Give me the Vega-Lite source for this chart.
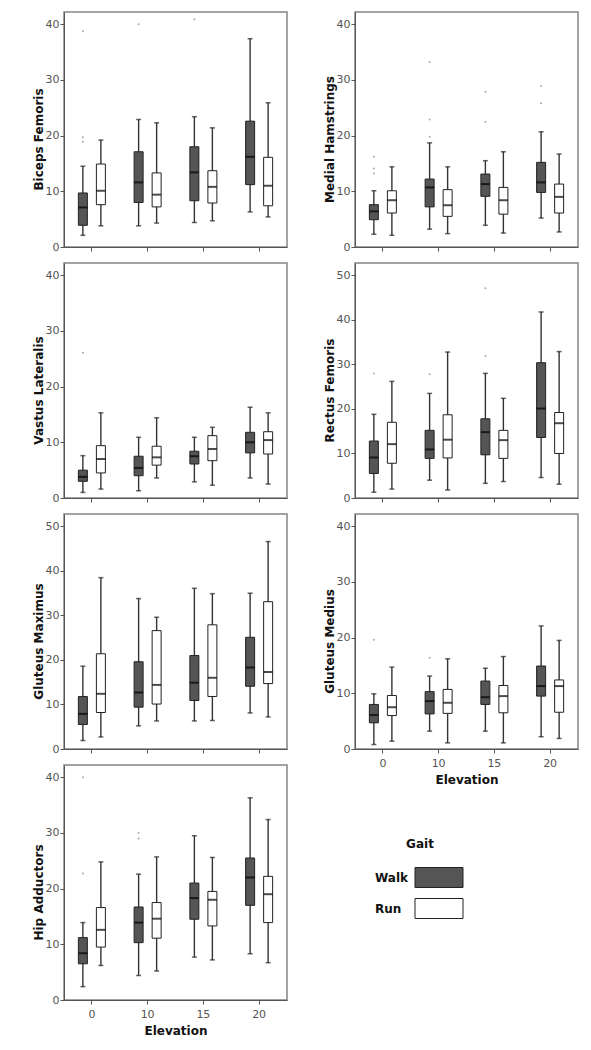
{
  "$schema": "https://vega.github.io/schema/vega-lite/v6.json",
  "padding": {"left": 31, "top": 11, "right": 5, "bottom": 5},
  "background": "white",
  "datasets": {
    "b": [
      {"m":"Biceps Femoris","e":"0","g":"Walk","lo":2.1,"q1":3.9,"med":7.1,"q3":9.7,"hi":14.5},
      {"m":"Biceps Femoris","e":"0","g":"Run","lo":3.8,"q1":7.6,"med":10.1,"q3":14.9,"hi":19.2},
      {"m":"Biceps Femoris","e":"10","g":"Walk","lo":3.8,"q1":8.0,"med":11.6,"q3":17.1,"hi":22.9},
      {"m":"Biceps Femoris","e":"10","g":"Run","lo":4.3,"q1":7.2,"med":9.4,"q3":13.3,"hi":22.3},
      {"m":"Biceps Femoris","e":"15","g":"Walk","lo":4.4,"q1":8.3,"med":13.4,"q3":18.0,"hi":23.4},
      {"m":"Biceps Femoris","e":"15","g":"Run","lo":4.7,"q1":7.9,"med":10.8,"q3":13.7,"hi":21.4},
      {"m":"Biceps Femoris","e":"20","g":"Walk","lo":6.3,"q1":11.2,"med":16.2,"q3":22.6,"hi":37.4},
      {"m":"Biceps Femoris","e":"20","g":"Run","lo":5.4,"q1":7.4,"med":11.0,"q3":16.1,"hi":25.9},
      {"m":"Biceps Femoris","e":"0","g":"Walk","out":38.8},
      {"m":"Biceps Femoris","e":"0","g":"Walk","out":19.7},
      {"m":"Biceps Femoris","e":"0","g":"Walk","out":18.9},
      {"m":"Biceps Femoris","e":"10","g":"Walk","out":40.0},
      {"m":"Biceps Femoris","e":"15","g":"Walk","out":40.9},

      {"m":"Medial Hamstrings","e":"0","g":"Walk","lo":2.3,"q1":4.9,"med":6.4,"q3":7.6,"hi":10.1},
      {"m":"Medial Hamstrings","e":"0","g":"Run","lo":2.1,"q1":6.1,"med":8.4,"q3":10.1,"hi":14.4},
      {"m":"Medial Hamstrings","e":"10","g":"Walk","lo":3.2,"q1":7.2,"med":10.7,"q3":12.2,"hi":18.7},
      {"m":"Medial Hamstrings","e":"10","g":"Run","lo":2.4,"q1":5.5,"med":7.5,"q3":10.3,"hi":14.4},
      {"m":"Medial Hamstrings","e":"15","g":"Walk","lo":3.9,"q1":9.1,"med":11.3,"q3":13.1,"hi":15.5},
      {"m":"Medial Hamstrings","e":"15","g":"Run","lo":2.5,"q1":5.9,"med":8.4,"q3":10.7,"hi":17.1},
      {"m":"Medial Hamstrings","e":"20","g":"Walk","lo":5.2,"q1":9.8,"med":11.6,"q3":15.2,"hi":20.7},
      {"m":"Medial Hamstrings","e":"20","g":"Run","lo":2.7,"q1":6.1,"med":9.0,"q3":11.3,"hi":16.7},
      {"m":"Medial Hamstrings","e":"0","g":"Walk","out":16.2},
      {"m":"Medial Hamstrings","e":"0","g":"Walk","out":14.1},
      {"m":"Medial Hamstrings","e":"0","g":"Walk","out":13.2},
      {"m":"Medial Hamstrings","e":"10","g":"Walk","out":33.2},
      {"m":"Medial Hamstrings","e":"10","g":"Walk","out":22.9},
      {"m":"Medial Hamstrings","e":"10","g":"Walk","out":19.8},
      {"m":"Medial Hamstrings","e":"15","g":"Walk","out":27.9},
      {"m":"Medial Hamstrings","e":"15","g":"Walk","out":22.5},
      {"m":"Medial Hamstrings","e":"20","g":"Walk","out":28.9},
      {"m":"Medial Hamstrings","e":"20","g":"Walk","out":25.8},

      {"m":"Vastus Lateralis","e":"0","g":"Walk","lo":1.0,"q1":3.0,"med":3.8,"q3":5.0,"hi":7.6},
      {"m":"Vastus Lateralis","e":"0","g":"Run","lo":1.6,"q1":4.5,"med":7.0,"q3":9.4,"hi":15.3},
      {"m":"Vastus Lateralis","e":"10","g":"Walk","lo":1.3,"q1":4.0,"med":5.4,"q3":7.5,"hi":10.9},
      {"m":"Vastus Lateralis","e":"10","g":"Run","lo":3.6,"q1":5.9,"med":7.3,"q3":9.3,"hi":14.4},
      {"m":"Vastus Lateralis","e":"15","g":"Walk","lo":2.9,"q1":6.1,"med":7.5,"q3":8.4,"hi":10.9},
      {"m":"Vastus Lateralis","e":"15","g":"Run","lo":2.3,"q1":6.7,"med":8.8,"q3":11.2,"hi":12.7},
      {"m":"Vastus Lateralis","e":"20","g":"Walk","lo":3.6,"q1":8.1,"med":10.0,"q3":11.8,"hi":16.3},
      {"m":"Vastus Lateralis","e":"20","g":"Run","lo":2.5,"q1":7.9,"med":10.4,"q3":11.9,"hi":15.3},
      {"m":"Vastus Lateralis","e":"0","g":"Walk","out":26.1},

      {"m":"Rectus Femoris","e":"0","g":"Walk","lo":1.3,"q1":5.5,"med":9.1,"q3":12.8,"hi":18.8},
      {"m":"Rectus Femoris","e":"0","g":"Run","lo":2.0,"q1":7.8,"med":12.1,"q3":17.0,"hi":26.2},
      {"m":"Rectus Femoris","e":"10","g":"Walk","lo":4.0,"q1":8.9,"med":10.9,"q3":15.2,"hi":23.5},
      {"m":"Rectus Femoris","e":"10","g":"Run","lo":1.8,"q1":9.0,"med":13.1,"q3":18.7,"hi":32.8},
      {"m":"Rectus Femoris","e":"15","g":"Walk","lo":3.3,"q1":9.7,"med":14.8,"q3":17.8,"hi":28.0},
      {"m":"Rectus Femoris","e":"15","g":"Run","lo":3.7,"q1":8.9,"med":13.0,"q3":15.2,"hi":22.4},
      {"m":"Rectus Femoris","e":"20","g":"Walk","lo":4.6,"q1":13.6,"med":20.1,"q3":30.4,"hi":41.8},
      {"m":"Rectus Femoris","e":"20","g":"Run","lo":3.1,"q1":10.0,"med":16.8,"q3":19.2,"hi":32.9},
      {"m":"Rectus Femoris","e":"0","g":"Walk","out":28.0},
      {"m":"Rectus Femoris","e":"10","g":"Walk","out":27.8},
      {"m":"Rectus Femoris","e":"15","g":"Walk","out":47.1},
      {"m":"Rectus Femoris","e":"15","g":"Walk","out":31.9},

      {"m":"Gluteus Maximus","e":"0","g":"Walk","lo":1.9,"q1":5.5,"med":7.9,"q3":11.8,"hi":18.6},
      {"m":"Gluteus Maximus","e":"0","g":"Run","lo":2.7,"q1":8.2,"med":12.4,"q3":21.4,"hi":38.5},
      {"m":"Gluteus Maximus","e":"10","g":"Walk","lo":5.2,"q1":9.4,"med":12.7,"q3":19.6,"hi":33.8},
      {"m":"Gluteus Maximus","e":"10","g":"Run","lo":6.3,"q1":10.1,"med":14.4,"q3":26.6,"hi":29.6},
      {"m":"Gluteus Maximus","e":"15","g":"Walk","lo":6.3,"q1":10.9,"med":14.9,"q3":21.0,"hi":36.1},
      {"m":"Gluteus Maximus","e":"15","g":"Run","lo":6.4,"q1":11.8,"med":16.0,"q3":27.9,"hi":34.9},
      {"m":"Gluteus Maximus","e":"20","g":"Walk","lo":8.1,"q1":14.1,"med":18.3,"q3":25.1,"hi":35.0},
      {"m":"Gluteus Maximus","e":"20","g":"Run","lo":7.2,"q1":14.7,"med":17.3,"q3":33.1,"hi":46.6},

      {"m":"Gluteus Medius","e":"0","g":"Walk","lo":0.8,"q1":4.7,"med":6.1,"q3":8.0,"hi":9.9},
      {"m":"Gluteus Medius","e":"0","g":"Run","lo":1.4,"q1":6.0,"med":7.5,"q3":9.6,"hi":14.7},
      {"m":"Gluteus Medius","e":"10","g":"Walk","lo":3.2,"q1":6.3,"med":8.6,"q3":10.3,"hi":13.1},
      {"m":"Gluteus Medius","e":"10","g":"Run","lo":1.1,"q1":6.4,"med":8.3,"q3":10.7,"hi":16.2},
      {"m":"Gluteus Medius","e":"15","g":"Walk","lo":3.2,"q1":8.0,"med":9.3,"q3":12.2,"hi":14.5},
      {"m":"Gluteus Medius","e":"15","g":"Run","lo":1.1,"q1":6.5,"med":9.5,"q3":11.4,"hi":16.6},
      {"m":"Gluteus Medius","e":"20","g":"Walk","lo":2.2,"q1":9.5,"med":11.3,"q3":14.9,"hi":22.1},
      {"m":"Gluteus Medius","e":"20","g":"Run","lo":1.9,"q1":6.6,"med":11.3,"q3":12.4,"hi":19.5},
      {"m":"Gluteus Medius","e":"0","g":"Walk","out":19.6},
      {"m":"Gluteus Medius","e":"10","g":"Walk","out":16.4},

      {"m":"Hip Adductors","e":"0","g":"Walk","lo":2.4,"q1":6.5,"med":8.4,"q3":11.2,"hi":13.9},
      {"m":"Hip Adductors","e":"0","g":"Run","lo":6.2,"q1":9.5,"med":12.6,"q3":16.6,"hi":24.8},
      {"m":"Hip Adductors","e":"10","g":"Walk","lo":4.4,"q1":10.3,"med":13.9,"q3":16.7,"hi":22.6},
      {"m":"Hip Adductors","e":"10","g":"Run","lo":5.2,"q1":11.1,"med":14.6,"q3":17.5,"hi":25.7},
      {"m":"Hip Adductors","e":"15","g":"Walk","lo":7.7,"q1":14.5,"med":18.3,"q3":21.0,"hi":29.5},
      {"m":"Hip Adductors","e":"15","g":"Run","lo":7.2,"q1":13.3,"med":18.0,"q3":19.5,"hi":25.6},
      {"m":"Hip Adductors","e":"20","g":"Walk","lo":8.3,"q1":17.0,"med":22.0,"q3":25.5,"hi":36.3},
      {"m":"Hip Adductors","e":"20","g":"Run","lo":6.7,"q1":13.9,"med":19.0,"q3":22.2,"hi":32.4},
      {"m":"Hip Adductors","e":"0","g":"Walk","out":40.0},
      {"m":"Hip Adductors","e":"0","g":"Walk","out":22.7},
      {"m":"Hip Adductors","e":"10","g":"Walk","out":30.0},
      {"m":"Hip Adductors","e":"10","g":"Walk","out":29.0}
    ]
  },
  "data": {"name": "b"},
  "columns": 2,
  "bounds": "flush",
  "spacing": {"row": 16, "column": 68},
  "resolve": {"scale": {"fill": "shared"}, "legend": {"fill": "shared"}},
  "concat": [
    {
      "width": 223, "height": 235,
      "transform": [{"filter": "datum.m === 'Biceps Femoris'"}],
      "encoding": {
        "x": {"field": "e", "type": "nominal", "sort": ["0","10","15","20"], "scale": {"paddingInner": 0.354, "paddingOuter": 0.177}, "axis": {"labels": false, "title": null}},
        "xOffset": {"field": "g", "type": "nominal", "sort": ["Walk","Run"], "scale": {"paddingInner": 0, "paddingOuter": 0}}
      },
      "layer": [
        {"transform": [{"filter": "isValid(datum.lo)"}], "mark": {"type": "rule", "color": "#333", "strokeWidth": 1.4}, "encoding": {"y": {"field": "lo", "type": "quantitative", "scale": {"domain": [0, 42.2], "nice": false}, "axis": {"values": [0,10,20,30,40], "title": "Biceps Femoris"}}, "y2": {"field": "hi"}}},
        {"transform": [{"filter": "isValid(datum.lo)"}], "mark": {"type": "tick", "color": "#222", "size": 5, "thickness": 1.5}, "encoding": {"y": {"field": "lo", "type": "quantitative"}}},
        {"transform": [{"filter": "isValid(datum.lo)"}], "mark": {"type": "tick", "color": "#222", "size": 5, "thickness": 1.5}, "encoding": {"y": {"field": "hi", "type": "quantitative"}}},
        {"transform": [{"filter": "isValid(datum.lo)"}], "mark": {"type": "bar", "width": 9, "stroke": "#222", "strokeWidth": 1, "opacity": 1}, "encoding": {"y": {"field": "q1", "type": "quantitative"}, "y2": {"field": "q3"}, "fill": {"field": "g", "type": "nominal", "title": "Gait", "scale": {"domain": ["Walk","Run"], "range": ["#555555","#ffffff"]}, "legend": {"orient": "none", "legendX": 311, "legendY": 827, "direction": "vertical", "titleAnchor": "middle", "symbolType": "M-2.4,-1H2.4V1H-2.4Z", "symbolSize": 400, "symbolStrokeColor": "#333", "symbolStrokeWidth": 1, "symbolOpacity": 1, "symbolOffset": 53.5, "labelOffset": -74.5, "rowPadding": 6, "titlePadding": 16}}}},
        {"transform": [{"filter": "isValid(datum.lo)"}], "mark": {"type": "tick", "color": "#000", "size": 9, "thickness": 2}, "encoding": {"y": {"field": "med", "type": "quantitative"}}},
        {"transform": [{"filter": "isValid(datum.out)"}], "mark": {"type": "circle", "size": 4, "color": "#aaa", "opacity": 1}, "encoding": {"y": {"field": "out", "type": "quantitative"}}}
      ]
    },
    {
      "width": 223, "height": 235,
      "transform": [{"filter": "datum.m === 'Medial Hamstrings'"}],
      "encoding": {
        "x": {"field": "e", "type": "nominal", "sort": ["0","10","15","20"], "scale": {"paddingInner": 0.354, "paddingOuter": 0.177}, "axis": {"labels": false, "title": null}},
        "xOffset": {"field": "g", "type": "nominal", "sort": ["Walk","Run"], "scale": {"paddingInner": 0, "paddingOuter": 0}}
      },
      "layer": [
        {"transform": [{"filter": "isValid(datum.lo)"}], "mark": {"type": "rule", "color": "#333", "strokeWidth": 1.4}, "encoding": {"y": {"field": "lo", "type": "quantitative", "scale": {"domain": [0, 42.2], "nice": false}, "axis": {"values": [0,10,20,30,40], "title": "Medial Hamstrings"}}, "y2": {"field": "hi"}}},
        {"transform": [{"filter": "isValid(datum.lo)"}], "mark": {"type": "tick", "color": "#222", "size": 5, "thickness": 1.5}, "encoding": {"y": {"field": "lo", "type": "quantitative"}}},
        {"transform": [{"filter": "isValid(datum.lo)"}], "mark": {"type": "tick", "color": "#222", "size": 5, "thickness": 1.5}, "encoding": {"y": {"field": "hi", "type": "quantitative"}}},
        {"transform": [{"filter": "isValid(datum.lo)"}], "mark": {"type": "bar", "width": 9, "stroke": "#222", "strokeWidth": 1, "opacity": 1}, "encoding": {"y": {"field": "q1", "type": "quantitative"}, "y2": {"field": "q3"}, "fill": {"field": "g", "type": "nominal", "title": "Gait"}}},
        {"transform": [{"filter": "isValid(datum.lo)"}], "mark": {"type": "tick", "color": "#000", "size": 9, "thickness": 2}, "encoding": {"y": {"field": "med", "type": "quantitative"}}},
        {"transform": [{"filter": "isValid(datum.out)"}], "mark": {"type": "circle", "size": 4, "color": "#aaa", "opacity": 1}, "encoding": {"y": {"field": "out", "type": "quantitative"}}}
      ]
    },
    {
      "width": 223, "height": 235,
      "transform": [{"filter": "datum.m === 'Vastus Lateralis'"}],
      "encoding": {
        "x": {"field": "e", "type": "nominal", "sort": ["0","10","15","20"], "scale": {"paddingInner": 0.354, "paddingOuter": 0.177}, "axis": {"labels": false, "title": null}},
        "xOffset": {"field": "g", "type": "nominal", "sort": ["Walk","Run"], "scale": {"paddingInner": 0, "paddingOuter": 0}}
      },
      "layer": [
        {"transform": [{"filter": "isValid(datum.lo)"}], "mark": {"type": "rule", "color": "#333", "strokeWidth": 1.4}, "encoding": {"y": {"field": "lo", "type": "quantitative", "scale": {"domain": [0, 42.2], "nice": false}, "axis": {"values": [0,10,20,30,40], "title": "Vastus Lateralis"}}, "y2": {"field": "hi"}}},
        {"transform": [{"filter": "isValid(datum.lo)"}], "mark": {"type": "tick", "color": "#222", "size": 5, "thickness": 1.5}, "encoding": {"y": {"field": "lo", "type": "quantitative"}}},
        {"transform": [{"filter": "isValid(datum.lo)"}], "mark": {"type": "tick", "color": "#222", "size": 5, "thickness": 1.5}, "encoding": {"y": {"field": "hi", "type": "quantitative"}}},
        {"transform": [{"filter": "isValid(datum.lo)"}], "mark": {"type": "bar", "width": 9, "stroke": "#222", "strokeWidth": 1, "opacity": 1}, "encoding": {"y": {"field": "q1", "type": "quantitative"}, "y2": {"field": "q3"}, "fill": {"field": "g", "type": "nominal", "title": "Gait"}}},
        {"transform": [{"filter": "isValid(datum.lo)"}], "mark": {"type": "tick", "color": "#000", "size": 9, "thickness": 2}, "encoding": {"y": {"field": "med", "type": "quantitative"}}},
        {"transform": [{"filter": "isValid(datum.out)"}], "mark": {"type": "circle", "size": 4, "color": "#aaa", "opacity": 1}, "encoding": {"y": {"field": "out", "type": "quantitative"}}}
      ]
    },
    {
      "width": 223, "height": 235,
      "transform": [{"filter": "datum.m === 'Rectus Femoris'"}],
      "encoding": {
        "x": {"field": "e", "type": "nominal", "sort": ["0","10","15","20"], "scale": {"paddingInner": 0.354, "paddingOuter": 0.177}, "axis": {"labels": false, "title": null}},
        "xOffset": {"field": "g", "type": "nominal", "sort": ["Walk","Run"], "scale": {"paddingInner": 0, "paddingOuter": 0}}
      },
      "layer": [
        {"transform": [{"filter": "isValid(datum.lo)"}], "mark": {"type": "rule", "color": "#333", "strokeWidth": 1.4}, "encoding": {"y": {"field": "lo", "type": "quantitative", "scale": {"domain": [0, 52.8], "nice": false}, "axis": {"values": [0,10,20,30,40,50], "title": "Rectus Femoris"}}, "y2": {"field": "hi"}}},
        {"transform": [{"filter": "isValid(datum.lo)"}], "mark": {"type": "tick", "color": "#222", "size": 5, "thickness": 1.5}, "encoding": {"y": {"field": "lo", "type": "quantitative"}}},
        {"transform": [{"filter": "isValid(datum.lo)"}], "mark": {"type": "tick", "color": "#222", "size": 5, "thickness": 1.5}, "encoding": {"y": {"field": "hi", "type": "quantitative"}}},
        {"transform": [{"filter": "isValid(datum.lo)"}], "mark": {"type": "bar", "width": 9, "stroke": "#222", "strokeWidth": 1, "opacity": 1}, "encoding": {"y": {"field": "q1", "type": "quantitative"}, "y2": {"field": "q3"}, "fill": {"field": "g", "type": "nominal", "title": "Gait"}}},
        {"transform": [{"filter": "isValid(datum.lo)"}], "mark": {"type": "tick", "color": "#000", "size": 9, "thickness": 2}, "encoding": {"y": {"field": "med", "type": "quantitative"}}},
        {"transform": [{"filter": "isValid(datum.out)"}], "mark": {"type": "circle", "size": 4, "color": "#aaa", "opacity": 1}, "encoding": {"y": {"field": "out", "type": "quantitative"}}}
      ]
    },
    {
      "width": 223, "height": 235,
      "transform": [{"filter": "datum.m === 'Gluteus Maximus'"}],
      "encoding": {
        "x": {"field": "e", "type": "nominal", "sort": ["0","10","15","20"], "scale": {"paddingInner": 0.354, "paddingOuter": 0.177}, "axis": {"labels": false, "title": null}},
        "xOffset": {"field": "g", "type": "nominal", "sort": ["Walk","Run"], "scale": {"paddingInner": 0, "paddingOuter": 0}}
      },
      "layer": [
        {"transform": [{"filter": "isValid(datum.lo)"}], "mark": {"type": "rule", "color": "#333", "strokeWidth": 1.4}, "encoding": {"y": {"field": "lo", "type": "quantitative", "scale": {"domain": [0, 52.8], "nice": false}, "axis": {"values": [0,10,20,30,40,50], "title": "Gluteus Maximus"}}, "y2": {"field": "hi"}}},
        {"transform": [{"filter": "isValid(datum.lo)"}], "mark": {"type": "tick", "color": "#222", "size": 5, "thickness": 1.5}, "encoding": {"y": {"field": "lo", "type": "quantitative"}}},
        {"transform": [{"filter": "isValid(datum.lo)"}], "mark": {"type": "tick", "color": "#222", "size": 5, "thickness": 1.5}, "encoding": {"y": {"field": "hi", "type": "quantitative"}}},
        {"transform": [{"filter": "isValid(datum.lo)"}], "mark": {"type": "bar", "width": 9, "stroke": "#222", "strokeWidth": 1, "opacity": 1}, "encoding": {"y": {"field": "q1", "type": "quantitative"}, "y2": {"field": "q3"}, "fill": {"field": "g", "type": "nominal", "title": "Gait"}}},
        {"transform": [{"filter": "isValid(datum.lo)"}], "mark": {"type": "tick", "color": "#000", "size": 9, "thickness": 2}, "encoding": {"y": {"field": "med", "type": "quantitative"}}},
        {"transform": [{"filter": "isValid(datum.out)"}], "mark": {"type": "circle", "size": 4, "color": "#aaa", "opacity": 1}, "encoding": {"y": {"field": "out", "type": "quantitative"}}}
      ]
    },
    {
      "width": 223, "height": 235,
      "transform": [{"filter": "datum.m === 'Gluteus Medius'"}],
      "encoding": {
        "x": {"field": "e", "type": "nominal", "sort": ["0","10","15","20"], "scale": {"paddingInner": 0.354, "paddingOuter": 0.177}, "axis": {"title": "Elevation"}},
        "xOffset": {"field": "g", "type": "nominal", "sort": ["Walk","Run"], "scale": {"paddingInner": 0, "paddingOuter": 0}}
      },
      "layer": [
        {"transform": [{"filter": "isValid(datum.lo)"}], "mark": {"type": "rule", "color": "#333", "strokeWidth": 1.4}, "encoding": {"y": {"field": "lo", "type": "quantitative", "scale": {"domain": [0, 42.2], "nice": false}, "axis": {"values": [0,10,20,30,40], "title": "Gluteus Medius"}}, "y2": {"field": "hi"}}},
        {"transform": [{"filter": "isValid(datum.lo)"}], "mark": {"type": "tick", "color": "#222", "size": 5, "thickness": 1.5}, "encoding": {"y": {"field": "lo", "type": "quantitative"}}},
        {"transform": [{"filter": "isValid(datum.lo)"}], "mark": {"type": "tick", "color": "#222", "size": 5, "thickness": 1.5}, "encoding": {"y": {"field": "hi", "type": "quantitative"}}},
        {"transform": [{"filter": "isValid(datum.lo)"}], "mark": {"type": "bar", "width": 9, "stroke": "#222", "strokeWidth": 1, "opacity": 1}, "encoding": {"y": {"field": "q1", "type": "quantitative"}, "y2": {"field": "q3"}, "fill": {"field": "g", "type": "nominal", "title": "Gait"}}},
        {"transform": [{"filter": "isValid(datum.lo)"}], "mark": {"type": "tick", "color": "#000", "size": 9, "thickness": 2}, "encoding": {"y": {"field": "med", "type": "quantitative"}}},
        {"transform": [{"filter": "isValid(datum.out)"}], "mark": {"type": "circle", "size": 4, "color": "#aaa", "opacity": 1}, "encoding": {"y": {"field": "out", "type": "quantitative"}}}
      ]
    },
    {
      "width": 223, "height": 235,
      "transform": [{"filter": "datum.m === 'Hip Adductors'"}],
      "encoding": {
        "x": {"field": "e", "type": "nominal", "sort": ["0","10","15","20"], "scale": {"paddingInner": 0.354, "paddingOuter": 0.177}, "axis": {"title": "Elevation"}},
        "xOffset": {"field": "g", "type": "nominal", "sort": ["Walk","Run"], "scale": {"paddingInner": 0, "paddingOuter": 0}}
      },
      "layer": [
        {"transform": [{"filter": "isValid(datum.lo)"}], "mark": {"type": "rule", "color": "#333", "strokeWidth": 1.4}, "encoding": {"y": {"field": "lo", "type": "quantitative", "scale": {"domain": [0, 42.2], "nice": false}, "axis": {"values": [0,10,20,30,40], "title": "Hip Adductors"}}, "y2": {"field": "hi"}}},
        {"transform": [{"filter": "isValid(datum.lo)"}], "mark": {"type": "tick", "color": "#222", "size": 5, "thickness": 1.5}, "encoding": {"y": {"field": "lo", "type": "quantitative"}}},
        {"transform": [{"filter": "isValid(datum.lo)"}], "mark": {"type": "tick", "color": "#222", "size": 5, "thickness": 1.5}, "encoding": {"y": {"field": "hi", "type": "quantitative"}}},
        {"transform": [{"filter": "isValid(datum.lo)"}], "mark": {"type": "bar", "width": 9, "stroke": "#222", "strokeWidth": 1, "opacity": 1}, "encoding": {"y": {"field": "q1", "type": "quantitative"}, "y2": {"field": "q3"}, "fill": {"field": "g", "type": "nominal", "title": "Gait"}}},
        {"transform": [{"filter": "isValid(datum.lo)"}], "mark": {"type": "tick", "color": "#000", "size": 9, "thickness": 2}, "encoding": {"y": {"field": "med", "type": "quantitative"}}},
        {"transform": [{"filter": "isValid(datum.out)"}], "mark": {"type": "circle", "size": 4, "color": "#aaa", "opacity": 1}, "encoding": {"y": {"field": "out", "type": "quantitative"}}}
      ]
    }
  ],
  "config": {
    "font": "DejaVu Sans",
    "view": {"stroke": "#858585", "strokeWidth": 1.5},
    "axis": {"grid": false, "domainColor": "#555", "domainWidth": 1, "tickColor": "#555", "tickSize": 4, "labelFont": "DejaVu Sans", "labelFontSize": 11, "labelColor": "#555", "titleFont": "DejaVu Sans", "titleFontSize": 12, "titleFontWeight": "bold", "titleColor": "#111"},
    "axisY": {"labelPadding": 1, "titlePadding": 0, "titleY": 127},
    "axisX": {"labelAngle": 0, "labelPadding": 4, "titlePadding": 6},
    "legend": {"labelFont": "DejaVu Sans", "labelFontSize": 12, "labelFontWeight": "bold", "labelColor": "#111", "titleFont": "DejaVu Sans", "titleFontSize": 12, "titleFontWeight": "bold", "titleColor": "#111"}
  }
}
